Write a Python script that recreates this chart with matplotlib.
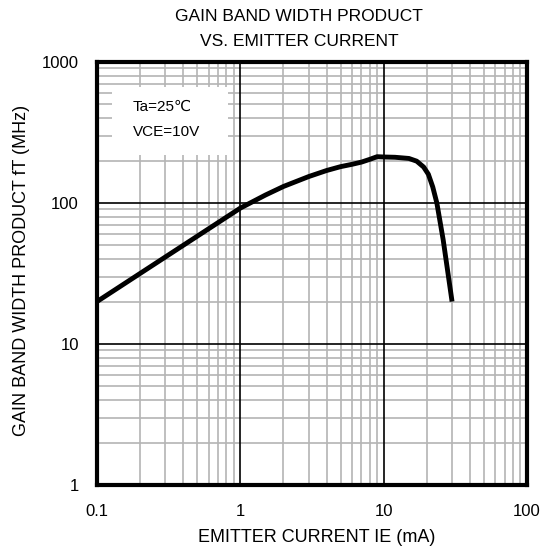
import matplotlib
matplotlib.use("Agg")
import matplotlib.pyplot as plt
import numpy as np
from matplotlib.ticker import FixedLocator
from matplotlib.patches import Rectangle

plt.rcParams['font.family'] = ['Liberation Sans', 'DejaVu Sans']

ie_ma = [0.1, 1.0, 1.5, 2.0, 3.0, 4.0, 5.0, 6.0, 7.0, 8.0, 9.0, 10.0, 12.0, 15.0,
         17.0, 19.0, 20.5, 22.0, 23.5, 26.0, 30.0]
ft_mhz = [20, 92, 114, 131, 154, 170, 181, 188, 195, 204, 213, 212, 211, 207,
          198, 180, 160, 130, 100, 55, 20]

x_ticks = [0.1, 1, 10, 100]
x_ticklabels = ["0.1", "1", "10", "100"]
y_ticks = [1, 10, 100, 1000]
y_ticklabels = ["1", "10", "100", "1000"]

W, H = 546, 549
fig = plt.figure(figsize=(W / 100, H / 100), dpi=100)
ax = fig.add_axes([97 / W, 1 - 485 / H, (527 - 97) / W, (485 - 62) / H])
ax.set_xscale('log')
ax.set_yscale('log')
ax.set_xlim(0.1, 100)
ax.set_ylim(1, 1000)

# minor grid
minor_x = [m * 10.0**e for e in (-1, 0, 1) for m in range(2, 10)]
minor_y = [m * 10.0**e for e in (0, 1, 2) for m in range(2, 10)]
for v in minor_x:
    ax.axvline(v, color='#b4b4b4', lw=1.2, zorder=1)
for v in minor_y:
    ax.axhline(v, color='#b4b4b4', lw=1.2, zorder=1)
for v in x_ticks[1:-1]:
    ax.axvline(v, color='black', lw=1.2, zorder=2)
for v in y_ticks[1:-1]:
    ax.axhline(v, color='black', lw=1.2, zorder=2)

# legend box (white)
ax.add_patch(Rectangle((0.035, 0.78), 0.27, 0.16, transform=ax.transAxes,
                       facecolor='white', edgecolor='none', zorder=3))
ax.text(0.083, 0.895, "Ta=25℃", transform=ax.transAxes, fontsize=11,
        va='center', ha='left', zorder=4)
ax.text(0.083, 0.835, "VCE=10V", transform=ax.transAxes, fontsize=11,
        va='center', ha='left', zorder=4)

ax.plot(ie_ma, ft_mhz, color='black', lw=3.5, solid_capstyle='butt',
        solid_joinstyle='round', zorder=5)

ax.xaxis.set_major_locator(FixedLocator(x_ticks))
ax.yaxis.set_major_locator(FixedLocator(y_ticks))
ax.xaxis.set_minor_locator(FixedLocator([]))
ax.yaxis.set_minor_locator(FixedLocator([]))
ax.set_xticklabels(x_ticklabels, fontsize=12)
ax.set_yticklabels(y_ticklabels, fontsize=12)
ax.tick_params(axis='x', length=0, pad=14)
ax.tick_params(axis='y', length=0, pad=13)

for s in ax.spines.values():
    s.set_linewidth(3)
    s.set_zorder(6)

fig.text(299 / W, 1 - 15 / H, "GAIN BAND WIDTH PRODUCT", fontsize=12.5,
         ha='center', va='center_baseline')
fig.text(299 / W, 1 - 40 / H, "VS. EMITTER CURRENT", fontsize=12.5,
         ha='center', va='center_baseline')
fig.text(317 / W, 1 - 535 / H, "EMITTER CURRENT IE (mA)", fontsize=13,
         ha='center', va='center_baseline')
fig.text(22 / W, 1 - 270 / H, "GAIN BAND WIDTH PRODUCT fT (MHz)", fontsize=13,
         ha='center', va='center', rotation=90)

fig.savefig("out.png", dpi=100)
